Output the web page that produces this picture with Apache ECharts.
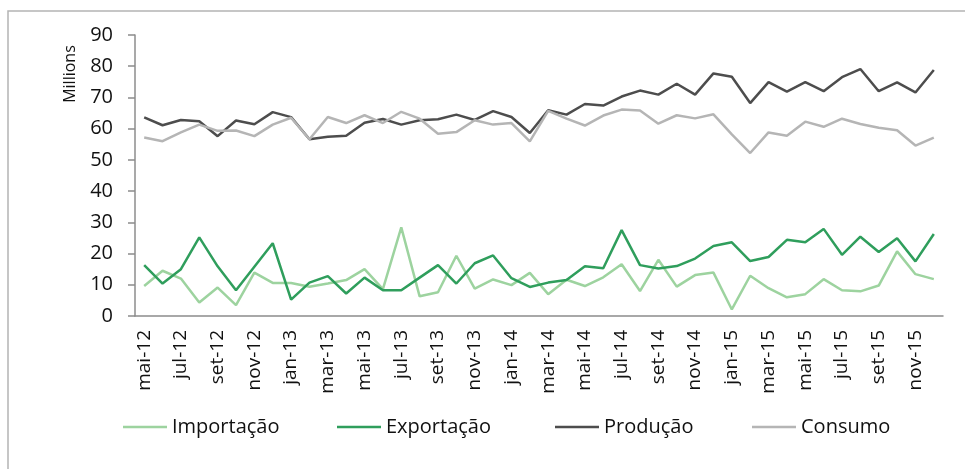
<!DOCTYPE html>
<html>
<head>
<meta charset="utf-8">
<script src="https://cdn.jsdelivr.net/npm/echarts@6/dist/echarts.min.js"></script>
<style>
  html, body { margin: 0; padding: 0; background: #fff; }
  #chart { width: 965px; height: 469px; }
</style>
</head>
<body>
<div id="chart"></div>
<script>
// meses mai-12 .. dez-15
var meses = ['mai-12','jun-12','jul-12','ago-12','set-12','out-12','nov-12','dez-12',
  'jan-13','fev-13','mar-13','abr-13','mai-13','jun-13','jul-13','ago-13','set-13','out-13','nov-13','dez-13',
  'jan-14','fev-14','mar-14','abr-14','mai-14','jun-14','jul-14','ago-14','set-14','out-14','nov-14','dez-14',
  'jan-15','fev-15','mar-15','abr-15','mai-15','jun-15','jul-15','ago-15','set-15','out-15','nov-15','dez-15'];

var importacao = [9.6, 14.5, 12.0, 4.3, 9.1, 3.5, 13.9, 10.6, 10.6, 9.4, 10.4, 11.5, 15.0, 8.6,
  28.4, 6.3, 7.6, 19.3, 8.8, 11.7, 9.9, 13.8, 7.0, 11.6, 9.6, 12.4, 16.6, 8.0, 18.0, 9.4,
  13.1, 13.9, 2.1, 12.9, 8.9, 6.0, 7.0, 11.8, 8.25, 7.9, 9.75, 20.7, 13.4, 11.8];

var exportacao = [16.3, 10.4, 15.0, 25.2, 15.9, 8.25, 15.8, 23.3, 5.25, 10.7, 12.75, 7.2, 12.3, 8.25,
  8.25, 12.3, 16.3, 10.4, 16.9, 19.4, 12.1, 9.3, 10.7, 11.5, 15.9, 15.3, 27.5, 16.3, 15.2, 16.0,
  18.4, 22.4, 23.6, 17.6, 18.9, 24.4, 23.6, 27.9, 19.6, 25.4, 20.5, 24.9, 17.5, 26.25];

var producao = [63.6, 61.1, 62.8, 62.4, 57.6, 62.6, 61.4, 65.3, 63.7, 56.6, 57.4, 57.7, 61.9, 63.1,
  61.3, 62.7, 63.0, 64.5, 62.8, 65.6, 63.75, 58.6, 65.9, 64.5, 67.9, 67.4, 70.3, 72.2, 70.9, 74.4,
  70.9, 77.7, 76.6, 68.2, 74.9, 71.9, 74.9, 72.0, 76.5, 79.1, 72.0, 74.8, 71.6, 78.8];

var consumo = [57.2, 56.0, 58.8, 61.3, 59.3, 59.4, 57.6, 61.3, 63.5, 56.6, 63.75, 61.8, 64.3, 61.8,
  65.4, 63.2, 58.4, 58.9, 62.7, 61.3, 61.8, 55.9, 65.7, 63.2, 61.0, 64.2, 66.1, 65.8, 61.6, 64.3,
  63.3, 64.6, 58.2, 52.2, 58.8, 57.75, 62.25, 60.6, 63.2, 61.5, 60.3, 59.5, 54.6, 57.1];

var yTicks = [0, 10, 20, 30, 40, 50, 60, 70, 80, 90];

var nomes = ['Importação', 'Exportação', 'Produção', 'Consumo'];
var cores = ['#9dd39f', '#2f9e5c', '#4d4d4d', '#b5b5b5'];
var legendLeft = [118, 332, 550, 747];

var fonte = '"Open Sans", Lato, sans-serif';

var chart = echarts.init(document.getElementById('chart'));

var legends = nomes.map(function (n, i) {
  return {
    data: [n],
    left: legendLeft[i],
    top: 412,
    icon: 'rect',
    itemWidth: 44,
    itemHeight: 2.5,
    itemGap: 5,
    textStyle: { fontFamily: fonte, fontSize: 20, color: '#111' }
  };
});

var dados = [importacao, exportacao, producao, consumo];

chart.setOption({
  animation: false,
  backgroundColor: '#fff',
  color: cores,
  graphic: [
    {
      type: 'rect',
      shape: { x: 8, y: 11, width: 1000, height: 500 },
      style: { fill: 'none', stroke: '#b4b4b4', lineWidth: 1.5 }
    },
    {
      type: 'text',
      x: 70,
      y: 74,
      rotation: Math.PI / 2,
      style: {
        text: 'Millions',
        fontFamily: fonte,
        fontSize: 16,
        fill: '#111',
        align: 'center',
        verticalAlign: 'middle'
      }
    }
  ],
  legend: legends,
  grid: { left: 135, right: 22, top: 35, bottom: 153 },
  xAxis: {
    type: 'category',
    data: meses,
    boundaryGap: true,
    axisLine: { lineStyle: { color: '#8c8c8c', width: 1.5 } },
    axisTick: { interval: 1, length: 6, lineStyle: { color: '#8c8c8c', width: 1.5 } },
    axisLabel: {
      interval: 1,
      rotate: 90,
      margin: 14,
      fontFamily: fonte,
      fontSize: 19,
      color: '#111'
    }
  },
  yAxis: {
    type: 'value',
    min: yTicks[0],
    max: yTicks[yTicks.length - 1],
    interval: 10,
    splitLine: { show: false },
    axisLine: { show: true, lineStyle: { color: '#8c8c8c', width: 1.5 } },
    axisTick: { show: true, length: 7, lineStyle: { color: '#8c8c8c', width: 1.5 } },
    axisLabel: { margin: 22, fontFamily: fonte, fontSize: 20, color: '#111' }
  },
  series: nomes.map(function (n, i) {
    return {
      name: n,
      type: 'line',
      data: dados[i],
      symbol: 'none',
      z: i === 0 ? 1 : 2 + i,
      lineStyle: { width: 2.5, color: cores[i] }
    };
  })
});
</script>
</body>
</html>
